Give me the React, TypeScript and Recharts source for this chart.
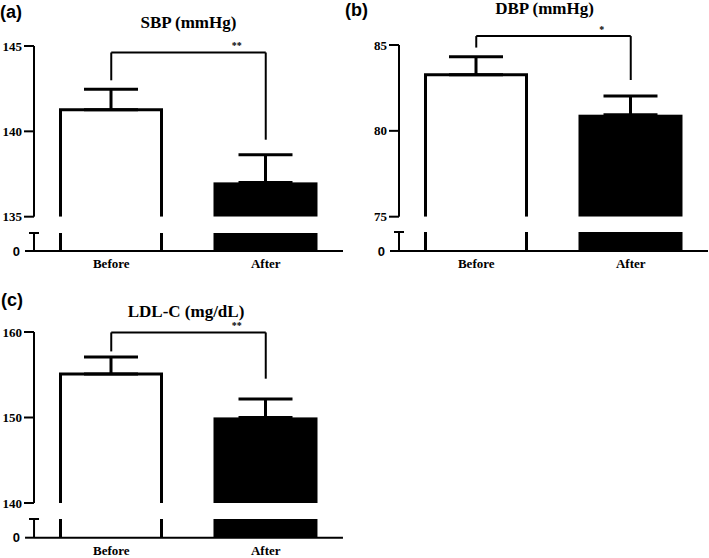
import { BarChart, Bar, XAxis, YAxis, ErrorBar, ReferenceLine } from "recharts";

const GROUPS = ["Before", "After"];

const SBP_MEAN = [141.27, 137.01];
const SBP_SEM = [1.19, 1.62];
const SBP_TICKS = [135, 140, 145];
const SBP_BRACKET = [144.62, 142.99, 139.51]; // bar top, left leg end, right leg end

const DBP_MEAN = [83.27, 80.94];
const DBP_SEM = [1.05, 1.09];
const DBP_TICKS = [75, 80, 85];
const DBP_BRACKET = [85.52, 84.85, 82.96];

const LDL_MEAN = [155.09, 150.01];
const LDL_SEM = [1.99, 2.15];
const LDL_TICKS = [140, 150, 160];
const LDL_BRACKET = [159.95, 157.73, 154.54];

const SERIF = "'Liberation Serif', 'Times New Roman', serif";
const SANS = "'Liberation Sans', Arial, sans-serif";
const AXIS_W = 34;
const PLOT_W = 309;
const TOP_PAD = 40;
const LOW_PAD = 6;
const TICK = 10;
const TICK_GAP = 2;

const lineStyle = { stroke: "#000", strokeWidth: 2 };

function OpenOrFilled(props: any) {
  const { x, y, width, height, payload, clipTop } = props;
  const bottom = y + height;
  const top = clipTop !== undefined ? Math.max(y, clipTop) : y;
  if (payload.name === GROUPS[0]) {
    const l = x + 1.5;
    const r = x + width - 1.5;
    const d =
      clipTop !== undefined
        ? `M${l},${top} L${l},${bottom} M${r},${top} L${r},${bottom}`
        : `M${l},${bottom} L${l},${top} L${r},${top} L${r},${bottom}`;
    return <path d={d} fill={clipTop !== undefined ? "none" : "#fff"} stroke="#000" strokeWidth={3} />;
  }
  return <rect x={x} y={top} width={width} height={bottom - top} fill="#000" />;
}

function Stars(props: any) {
  const vb = props.viewBox || {};
  return (
    <text
      x={vb.x + vb.width - 29}
      y={vb.y - 3}
      textAnchor="middle"
      fontFamily={SERIF}
      fontWeight={700}
      fontSize={10}
      fill="#000"
    >
      {props.text}
    </text>
  );
}

function LowerTick(props: any) {
  const { x, y, payload } = props;
  const ax = x + TICK + TICK_GAP;
  if (payload.value === 0) {
    return (
      <g>
        <line x1={ax - 9} x2={ax} y1={y} y2={y} {...lineStyle} />
        <text
          x={ax - 14}
          y={y}
          dy="0.36em"
          textAnchor="end"
          fontFamily={SANS}
          fontWeight={700}
          fontSize={13}
          fill="#000"
        >
          0
        </text>
      </g>
    );
  }
  return <line x1={ax - 5} x2={ax + 5} y1={y} y2={y} {...lineStyle} />;
}

type PanelProps = {
  plotLeft: number;
  upperTop: number;
  upperBottom: number;
  lowerTop: number;
  lowerBottom: number;
  mean: number[];
  sem: number[];
  ticks: number[];
  bracket: number[];
  stars: string;
};

function Panel(p: PanelProps) {
  const data = GROUPS.map((g, i) => ({ name: g, mean: p.mean[i], err: [0, p.sem[i]] }));
  const domain = [p.ticks[0], p.ticks[p.ticks.length - 1]];
  const upperH = p.upperBottom - p.upperTop;
  const lowerH = p.lowerBottom - p.lowerTop;
  const [bTop, bLeft, bRight] = p.bracket;
  const tickStyle = { fill: "#000", fontSize: 13, fontWeight: 700, fontFamily: SERIF };

  return (
    <>
      <div style={{ position: "absolute", left: p.plotLeft - AXIS_W, top: p.upperTop - TOP_PAD }}>
        <BarChart
          width={AXIS_W + PLOT_W + 1}
          height={TOP_PAD + upperH + 12}
          data={data}
          barSize={104}
          margin={{ top: TOP_PAD, right: 1, bottom: 12, left: 0 }}
        >
          <XAxis dataKey="name" hide />
          <YAxis
            type="number"
            domain={domain}
            ticks={p.ticks}
            interval={0}
            allowDataOverflow
            width={AXIS_W}
            axisLine={lineStyle}
            tickLine={lineStyle}
            tickSize={TICK}
            tickMargin={TICK_GAP}
            tick={tickStyle}
          />
          <Bar dataKey="mean" isAnimationActive={false} shape={(s: any) => <OpenOrFilled {...s} />}>
            <ErrorBar dataKey="err" direction="y" width={27} stroke="#000" strokeWidth={3} isAnimationActive={false} />
          </Bar>
          <ReferenceLine
            segment={[{ x: GROUPS[0], y: bTop }, { x: GROUPS[1], y: bTop }]}
            ifOverflow="visible"
            {...lineStyle}
            label={<Stars text={p.stars} />}
          />
          <ReferenceLine
            segment={[{ x: GROUPS[0], y: bTop }, { x: GROUPS[0], y: bLeft }]}
            ifOverflow="visible"
            {...lineStyle}
          />
          <ReferenceLine
            segment={[{ x: GROUPS[1], y: bTop }, { x: GROUPS[1], y: bRight }]}
            ifOverflow="visible"
            {...lineStyle}
          />
        </BarChart>
      </div>
      <div style={{ position: "absolute", left: p.plotLeft - AXIS_W, top: p.lowerTop - LOW_PAD }}>
        <BarChart
          width={AXIS_W + PLOT_W + 1}
          height={LOW_PAD + lowerH + 26}
          data={data}
          barSize={104}
          margin={{ top: LOW_PAD, right: 1, bottom: 0, left: 0 }}
        >
          <XAxis
            dataKey="name"
            height={26}
            axisLine={lineStyle}
            tickLine={false}
            tick={tickStyle}
          />
          <YAxis
            type="number"
            domain={[0, 1]}
            ticks={[0, 1]}
            interval={0}
            allowDataOverflow
            width={AXIS_W}
            axisLine={lineStyle}
            tickLine={false}
            tickSize={TICK}
            tickMargin={TICK_GAP}
            tick={<LowerTick />}
          />
          <Bar
            dataKey="mean"
            isAnimationActive={false}
            shape={(s: any) => <OpenOrFilled {...s} clipTop={LOW_PAD} />}
          />
        </BarChart>
      </div>
    </>
  );
}

function Title({ cx, cy, text }: { cx: number; cy: number; text: string }) {
  return (
    <div
      style={{
        position: "absolute",
        left: cx - 100,
        top: cy - 9,
        width: 200,
        textAlign: "center",
        fontFamily: SERIF,
        fontWeight: 700,
        fontSize: 17,
        lineHeight: "18px",
      }}
    >
      {text}
    </div>
  );
}

function Tag({ x, cy, text }: { x: number; cy: number; text: string }) {
  return (
    <div
      style={{
        position: "absolute",
        left: x,
        top: cy - 10,
        fontFamily: SANS,
        fontWeight: 700,
        fontSize: 18,
        lineHeight: "20px",
      }}
    >
      {text}
    </div>
  );
}

export default function App() {
  return (
    <div style={{ position: "absolute", left: 0, top: 0, width: 709, height: 558, background: "#fff" }}>
      <Tag x={0} cy={12} text="(a)" />
      <Tag x={345} cy={10} text="(b)" />
      <Tag x={1} cy={300} text="(c)" />
      <Title cx={188.5} cy={23} text="SBP (mmHg)" />
      <Title cx={544.5} cy={8.5} text="DBP (mmHg)" />
      <Title cx={186} cy={312} text="LDL-C (mg/dL)" />
      <Panel
        plotLeft={34}
        upperTop={46}
        upperBottom={216.7}
        lowerTop={232.7}
        lowerBottom={250.7}
        mean={SBP_MEAN}
        sem={SBP_SEM}
        ticks={SBP_TICKS}
        bracket={SBP_BRACKET}
        stars="**"
      />
      <Panel
        plotLeft={399}
        upperTop={45}
        upperBottom={216.7}
        lowerTop={231.7}
        lowerBottom={250.7}
        mean={DBP_MEAN}
        sem={DBP_SEM}
        ticks={DBP_TICKS}
        bracket={DBP_BRACKET}
        stars="*"
      />
      <Panel
        plotLeft={34}
        upperTop={332.3}
        upperBottom={503.3}
        lowerTop={519}
        lowerBottom={537.7}
        mean={LDL_MEAN}
        sem={LDL_SEM}
        ticks={LDL_TICKS}
        bracket={LDL_BRACKET}
        stars="**"
      />
    </div>
  );
}
